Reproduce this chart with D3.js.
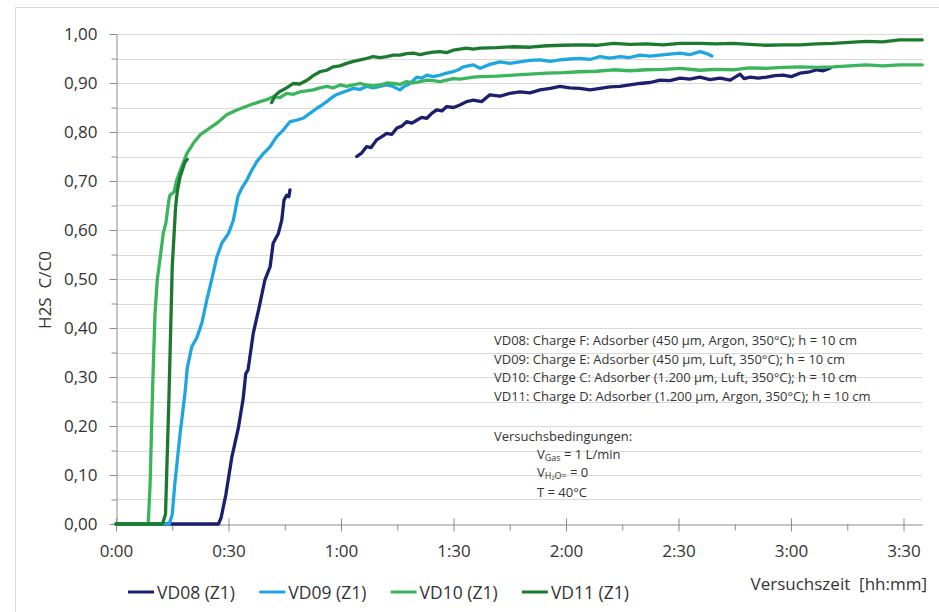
<!DOCTYPE html>
<html><head><meta charset="utf-8">
<script src="https://cdn.jsdelivr.net/npm/d3@7"></script>
<style>
html,body{margin:0;padding:0;background:#fff;}
svg{display:block;font-family:"Open Sans",sans-serif;}
</style></head><body>
<svg id="chart" width="939" height="612"></svg>
<script>
// ---------------- DATA ----------------
const seriesNames = ["VD08 (Z1)", "VD09 (Z1)", "VD10 (Z1)", "VD11 (Z1)"];
const seriesColors = ["#1b1f6e", "#1fa6e0", "#3ab55c", "#1c7a2f"];
const xTickMinutes = [0, 30, 60, 90, 120, 150, 180, 210];
const xTickLabels = ["0:00", "0:30", "1:00", "1:30", "2:00", "2:30", "3:00", "3:30"];
const yTickValues = [0, 0.1, 0.2, 0.3, 0.4, 0.5, 0.6, 0.7, 0.8, 0.9, 1.0];
const yTickLabels = ["0,00", "0,10", "0,20", "0,30", "0,40", "0,50", "0,60", "0,70", "0,80", "0,90", "1,00"];
const yMinorValues = [0.05, 0.15, 0.25, 0.35, 0.45, 0.55, 0.65, 0.75, 0.85, 0.95];
const xMinorMinutes = [15, 45, 75, 105, 135, 165, 195];
const xTitle = "Versuchszeit  [hh:mm]";
const yTitle = "H2S  C/C0";
const annotationLines = [
  "VD08: Charge F: Adsorber (450 µm, Argon, 350°C); h = 10 cm",
  "VD09: Charge E: Adsorber (450 µm, Luft, 350°C); h = 10 cm",
  "VD10: Charge C: Adsorber (1.200 µm, Luft, 350°C); h = 10 cm",
  "VD11: Charge D: Adsorber (1.200 µm, Argon, 350°C); h = 10 cm"
];
const conditionsTitle = "Versuchsbedingungen:";

// [minutes, C/C0]; null = gap in measurement
const vd08 = [[0,0],[27.3,0],[28.0,0.012],[29.3,0.06],[30.9,0.137],[32.6,0.195],[33.9,0.255],[34.6,0.307],[35.2,0.314],[36.6,0.389],[38.2,0.443],[39.7,0.498],[41.1,0.525],[41.9,0.573],[43.3,0.593],[44.2,0.62],[44.8,0.661],[45.5,0.671],[46.1,0.668],[46.4,0.682],
 null,
 [64.2,0.75],[65.5,0.757],[66.8,0.77],[68.0,0.768],[69.5,0.784],[70.8,0.79],[72.2,0.797],[73.5,0.795],[74.9,0.808],[76.2,0.812],[77.5,0.821],[78.9,0.818],[80.2,0.824],[81.5,0.83],[82.9,0.828],[84.2,0.838],[85.5,0.845],[86.9,0.843],[88.2,0.852],[90.0,0.85],[91.7,0.855],[93.5,0.862],[95.3,0.865],[97.5,0.862],[99.7,0.876],[102.4,0.873],[105,0.879],[107.7,0.882],[110.4,0.88],[113.1,0.886],[115.8,0.889],[118.4,0.893],[121,0.89],[123.7,0.889],[126.4,0.886],[129.1,0.889],[131.7,0.892],[134.4,0.893],[137,0.896],[139.7,0.899],[142.4,0.901],[145.1,0.906],[147.7,0.905],[150.4,0.91],[153,0.908],[155.7,0.912],[158.4,0.907],[161.1,0.91],[163.8,0.906],[166.4,0.918],[167.5,0.909],[169.1,0.912],[171.3,0.91],[173.5,0.912],[175.7,0.915],[177.9,0.916],[180.1,0.913],[182.4,0.92],[184.6,0.922],[186.9,0.927],[188.6,0.925],[190.4,0.93]];

const vd09 = [[0,0],[14.2,0],[15.0,0.02],[15.7,0.083],[17.1,0.185],[18.4,0.267],[19.0,0.318],[20.2,0.362],[21.5,0.379],[22.9,0.41],[24.2,0.457],[25.5,0.498],[26.9,0.545],[28.2,0.573],[30.0,0.593],[31.3,0.62],[32.5,0.668],[33.5,0.685],[34.9,0.702],[36.2,0.722],[37.5,0.739],[39.3,0.756],[41.1,0.77],[42.8,0.79],[44.6,0.804],[46.4,0.821],[48.1,0.824],[49.9,0.828],[51.7,0.838],[53.5,0.848],[54.9,0.855],[56.2,0.862],[57.5,0.87],[58.7,0.876],[60.9,0.882],[63.3,0.889],[65,0.887],[66.8,0.893],[68.6,0.89],[70.4,0.893],[72.2,0.896],[73.9,0.893],[75.7,0.886],[77,0.894],[78.4,0.899],[80.2,0.912],[81.5,0.91],[82.9,0.916],[84.6,0.913],[86.4,0.916],[88.2,0.92],[89.9,0.923],[91.3,0.927],[92.6,0.933],[95.3,0.937],[97.1,0.93],[99.7,0.938],[102.4,0.943],[105,0.94],[107.7,0.943],[110.4,0.946],[113.1,0.947],[115.8,0.944],[118.4,0.947],[121,0.949],[123.7,0.95],[126.4,0.948],[129.1,0.954],[131.7,0.951],[134.4,0.954],[137,0.952],[139.7,0.957],[142.4,0.955],[145.1,0.957],[147.7,0.959],[150.4,0.961],[153,0.958],[155.7,0.964],[157.5,0.96],[158.9,0.955]];

const vd10 = [[0,0],[8.6,0],[9.1,0.083],[9.8,0.287],[10.4,0.43],[11.0,0.498],[11.7,0.539],[12.6,0.593],[13.3,0.614],[14.1,0.661],[14.4,0.671],[15.5,0.678],[16.2,0.702],[17.5,0.729],[18.9,0.756],[20.6,0.777],[22.4,0.794],[24.2,0.804],[26.9,0.818],[29.5,0.835],[32.2,0.845],[35.7,0.855],[38.4,0.862],[40.2,0.866],[41.9,0.872],[43.7,0.87],[45.5,0.879],[47.3,0.877],[49.1,0.882],[50.8,0.884],[52.6,0.886],[54.4,0.89],[56.2,0.893],[57.9,0.89],[59.7,0.896],[61.5,0.893],[63.3,0.896],[65,0.899],[66.8,0.896],[68.6,0.894],[70.4,0.896],[72.2,0.9],[73.9,0.899],[75.7,0.897],[77.5,0.903],[79.3,0.9],[81.1,0.903],[82.9,0.906],[84.6,0.905],[86.4,0.903],[88.2,0.906],[89.9,0.909],[91.7,0.908],[93.5,0.91],[95.3,0.912],[97.1,0.913],[101.5,0.914],[105.9,0.916],[110.4,0.918],[114.9,0.92],[119.3,0.921],[123.7,0.923],[128.1,0.924],[132.6,0.927],[137,0.925],[141.5,0.927],[145.9,0.928],[150.4,0.93],[155.7,0.926],[160.1,0.928],[164.5,0.927],[168.9,0.931],[173.3,0.93],[177.9,0.932],[182.4,0.933],[186.8,0.932],[191.2,0.933],[195.6,0.935],[200,0.937],[204.5,0.935],[209,0.937],[215,0.937]];

const vd11 = [[0,0],[12.4,0],[13.2,0.02],[14.1,0.253],[15.0,0.525],[15.9,0.648],[16.4,0.682],[17.1,0.709],[18.4,0.739],[19.0,0.744],
 null,
 [41.5,0.86],[42.5,0.875],[43.6,0.882],[45.5,0.89],[47.3,0.899],[49,0.898],[50.8,0.905],[52.6,0.915],[54.4,0.923],[56.2,0.926],[57.9,0.933],[59.7,0.935],[61.5,0.94],[63.3,0.944],[65.1,0.947],[66.8,0.95],[68.6,0.954],[70.4,0.952],[72.2,0.954],[73.9,0.957],[75.7,0.957],[77.5,0.96],[79.3,0.961],[81.1,0.958],[82.9,0.961],[84.6,0.963],[86.4,0.964],[88.2,0.962],[89.9,0.967],[91.7,0.969],[93.5,0.971],[95.3,0.969],[97.1,0.971],[101.5,0.972],[105.9,0.974],[110.4,0.973],[114.9,0.976],[119.3,0.977],[123.7,0.978],[128.1,0.977],[132.6,0.981],[137,0.979],[141.5,0.98],[145.9,0.978],[150.4,0.981],[155.7,0.981],[160.1,0.98],[164.5,0.981],[168.9,0.979],[173.3,0.977],[177.9,0.978],[182.4,0.978],[186.8,0.98],[191.2,0.981],[195.6,0.983],[200,0.985],[204.5,0.984],[209,0.988],[215,0.988]];

const seriesData = [vd08, vd09, vd10, vd11];

// ---------------- CHART ----------------
const svg = d3.select("#chart");
const textColor = "#333333";
const axisColor = "#8a8a8a";
const gridColor = "#d9d9d9";

// outer chart border (only left/top visible in crop)
svg.append("rect").attr("x", 15.5).attr("y", 7.5).attr("width", 960).attr("height", 640)
  .attr("fill", "#fff").attr("stroke", "#d9d9d9").attr("stroke-width", 1);

const x = d3.scaleLinear().domain([0, 215]).range([116, 922.25]);
const y = d3.scaleLinear().domain([0, 1]).range([524, 34]);

// gridlines
const gridVals = yMinorValues.concat(yTickValues.filter(v => v > 0));
svg.append("g").selectAll("line").data(gridVals).join("line")
  .attr("x1", x(0)).attr("x2", x(215))
  .attr("y1", d => Math.round(y(d)) + 0.5).attr("y2", d => Math.round(y(d)) + 0.5)
  .attr("stroke", gridColor).attr("stroke-width", 1);

// y axis
const yAxis = svg.append("g").attr("transform", `translate(${x(0) + 0.5},0)`)
  .call(d3.axisLeft(y).tickValues(yTickValues).tickSize(7).tickSizeOuter(0).tickPadding(12)
    .tickFormat((d, i) => yTickLabels[i]));
const yMinor = svg.append("g").attr("transform", `translate(${x(0) + 0.5},0)`)
  .call(d3.axisLeft(y).tickValues(yMinorValues).tickSize(5).tickSizeOuter(0).tickFormat(""));
yMinor.select(".domain").remove();

// x axis
const xAxis = svg.append("g").attr("transform", `translate(0,${y(0) + 0.5})`)
  .call(d3.axisBottom(x).tickValues(xTickMinutes).tickSize(7).tickSizeOuter(0).tickPadding(13)
    .tickFormat((d, i) => xTickLabels[i]));
xAxis.selectAll(".tick line").attr("y1", -6);
const xMinor = svg.append("g").attr("transform", `translate(0,${y(0) + 0.5})`)
  .call(d3.axisBottom(x).tickValues(xMinorMinutes).tickSize(6).tickSizeOuter(0).tickFormat(""));
xMinor.select(".domain").remove();

[yAxis, yMinor, xAxis, xMinor].forEach(g => {
  g.selectAll(".domain").attr("stroke", axisColor);
  g.selectAll(".tick line").attr("stroke", axisColor);
  g.selectAll(".tick text").attr("fill", textColor).attr("font-size", 17)
    .attr("font-family", "'Open Sans', sans-serif");
});

// series
const line = d3.line()
  .defined(d => d !== null)
  .x(d => x(d[0])).y(d => y(d[1]));
svg.append("g").selectAll("path").data(seriesData).join("path")
  .attr("d", d => line(d))
  .attr("fill", "none")
  .attr("stroke", (d, i) => seriesColors[i])
  .attr("stroke-width", 3.3)
  .attr("stroke-linejoin", "round")
  .attr("stroke-linecap", "round");

// y title
svg.append("text")
  .attr("transform", "translate(51,290) rotate(-90)")
  .attr("text-anchor", "middle")
  .attr("font-size", 17).attr("fill", textColor)
  .style("white-space", "pre")
  .text(yTitle);

// x title
svg.append("text")
  .attr("x", 927).attr("y", 590)
  .attr("text-anchor", "end")
  .attr("font-size", 17).attr("fill", textColor)
  .style("white-space", "pre")
  .text(xTitle);

// legend
const legend = svg.append("g").selectAll("g").data(seriesNames).join("g")
  .attr("transform", (d, i) => `translate(${128 + i * 131.3},592)`);
legend.append("line").attr("x1", 0).attr("x2", 26).attr("y1", 0).attr("y2", 0)
  .attr("stroke", (d, i) => seriesColors[i]).attr("stroke-width", 3);
legend.append("text").attr("x", 29).attr("y", 7)
  .attr("font-size", 17.5).attr("fill", textColor).text(d => d);

// annotation
const ann = svg.append("g").attr("fill", textColor).attr("font-size", 13);
ann.selectAll("text.l").data(annotationLines).join("text").attr("class", "l")
  .attr("x", 494).attr("y", (d, i) => 345 + i * 18.7).text(d => d);
ann.append("text").attr("x", 494).attr("y", 441).text(conditionsTitle);

const c1 = ann.append("text").attr("x", 537).attr("y", 459);
c1.append("tspan").text("V");
c1.append("tspan").attr("font-size", 9).attr("dy", 2).text("Gas");
c1.append("tspan").attr("dy", -2).text(" = 1 L/min");

const c2 = ann.append("text").attr("x", 537).attr("y", 477);
c2.append("tspan").text("V");
c2.append("tspan").attr("font-size", 9).attr("dy", 2).text("H₂O=");
c2.append("tspan").attr("dy", -2).text(" = 0");

ann.append("text").attr("x", 537).attr("y", 497).text("T = 40°C");
</script>
</body></html>
